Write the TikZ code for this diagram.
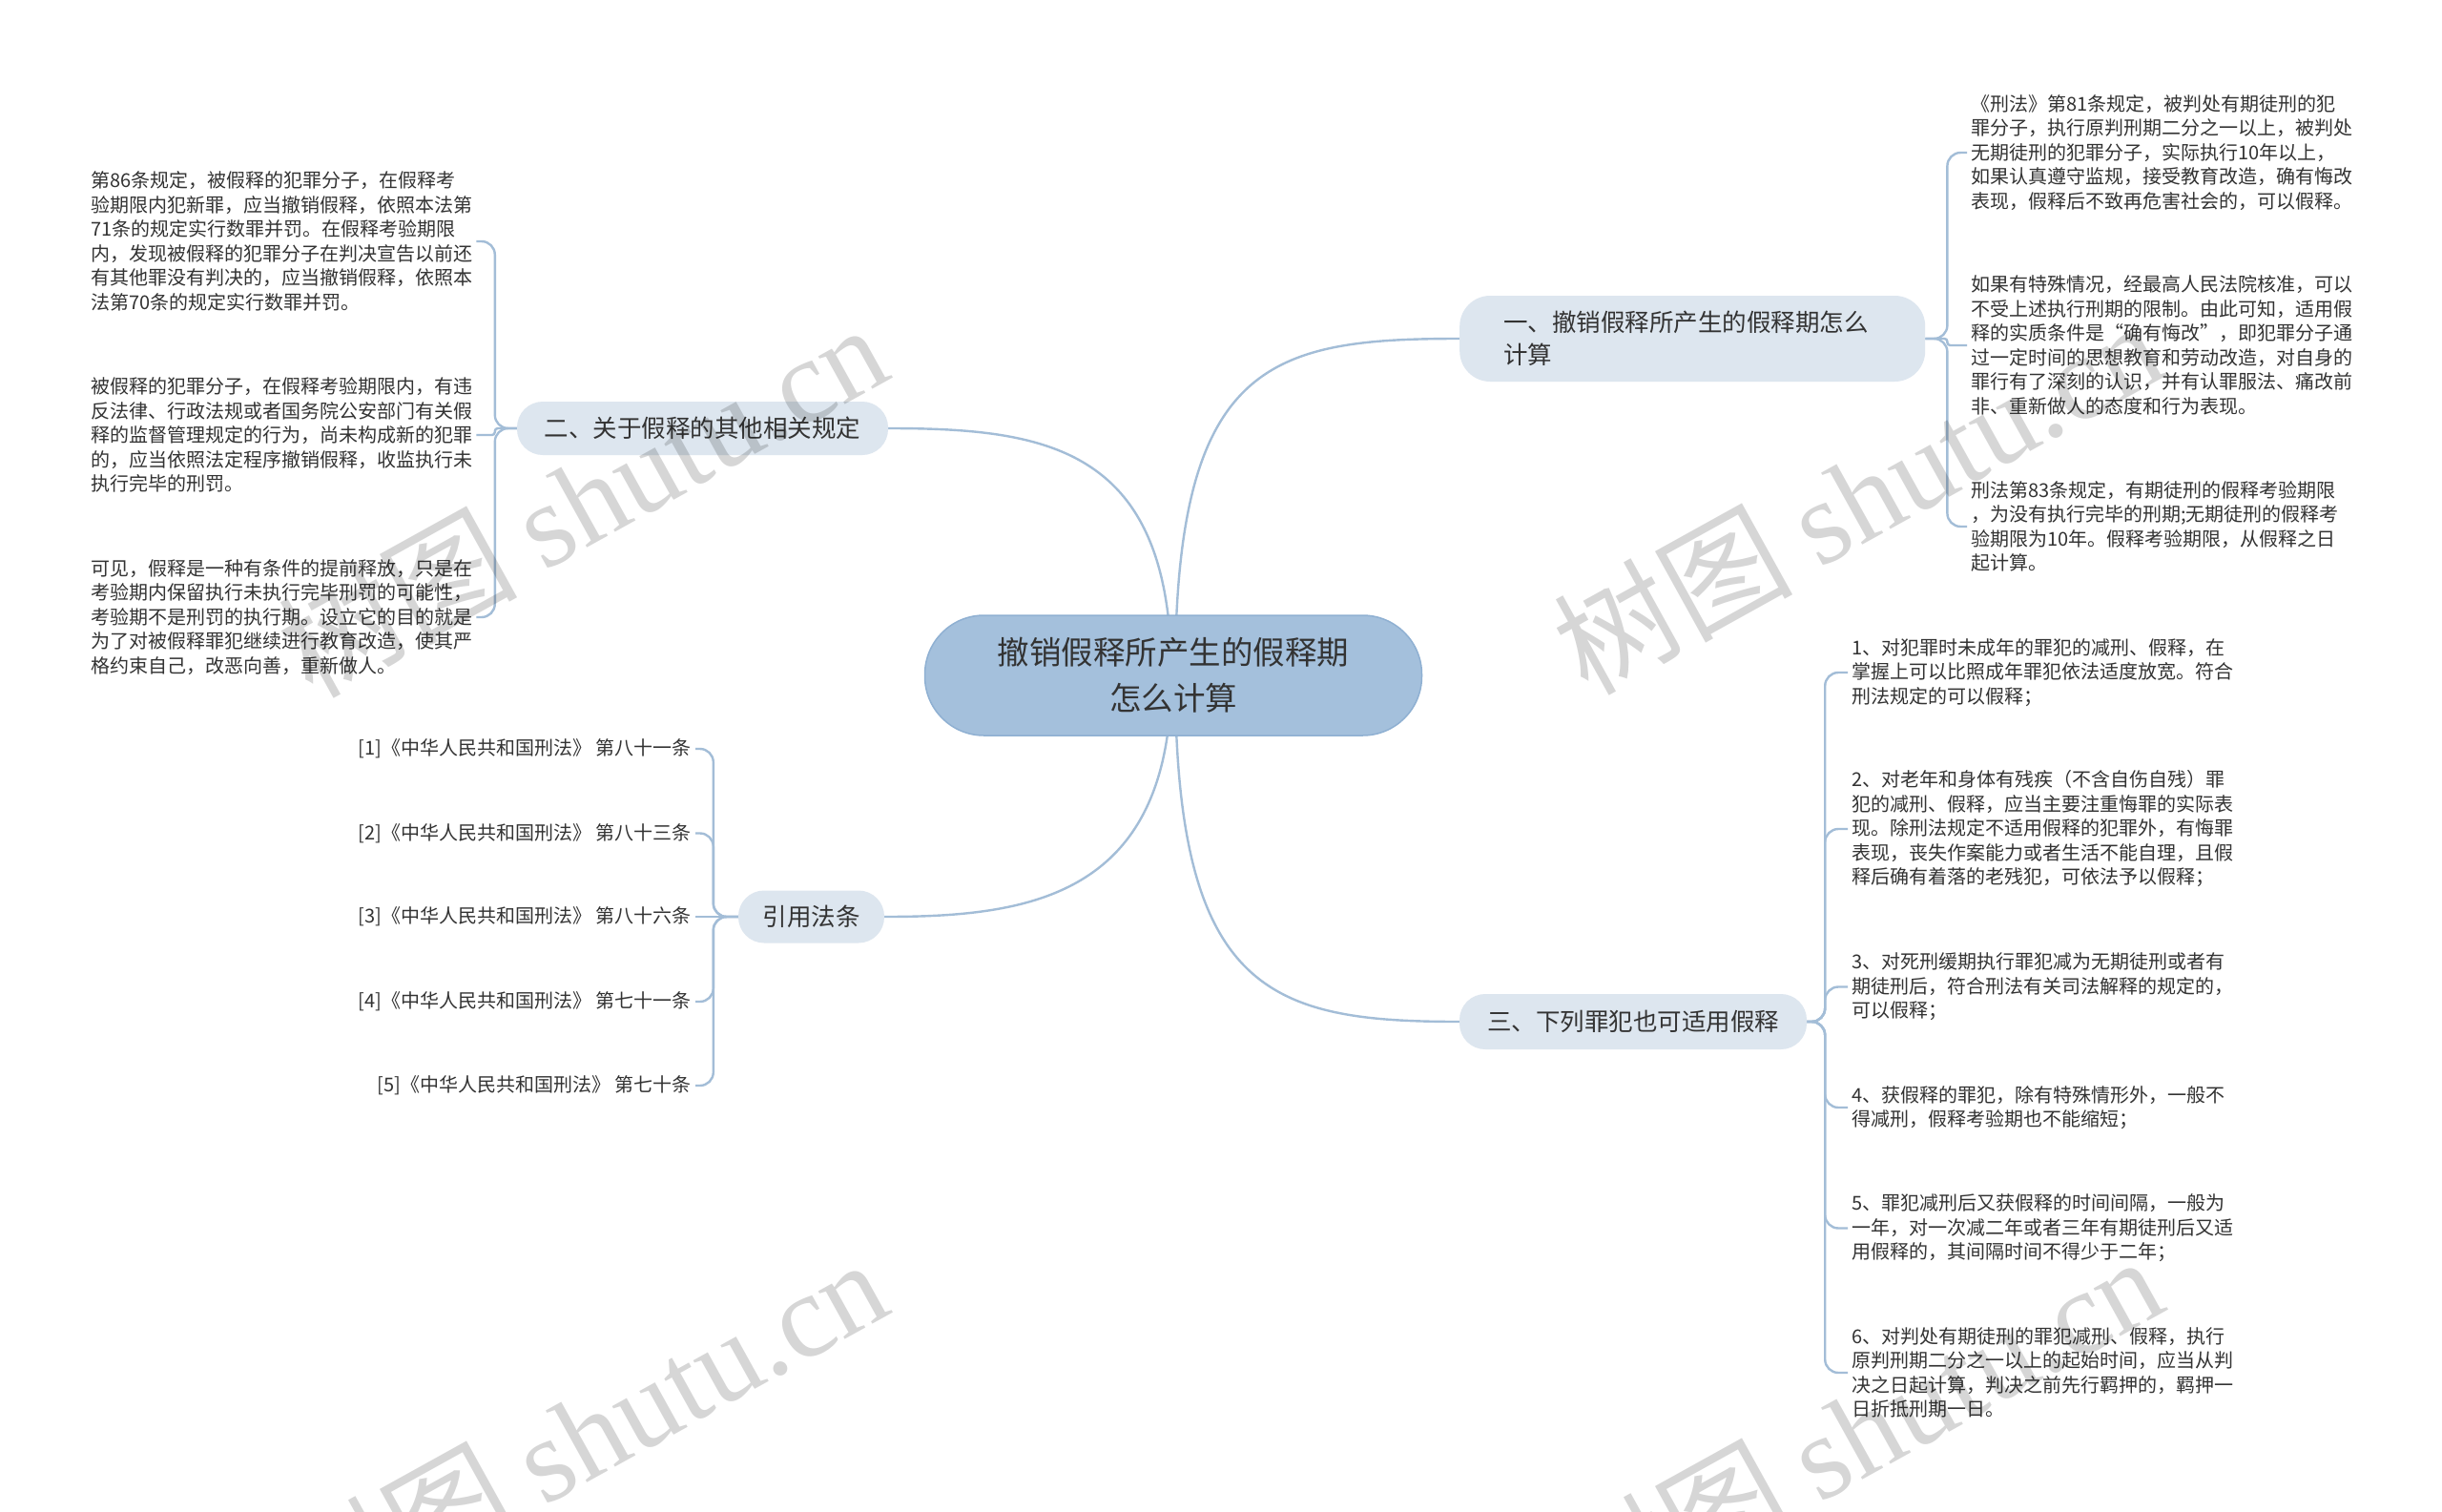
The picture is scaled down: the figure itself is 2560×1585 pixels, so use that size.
\documentclass[tikz,border=0pt]{standalone}
\usepackage{fontspec}
\setmainfont{Noto Sans CJK SC}
\newfontfamily\wmfont{Liberation Serif}
\usetikzlibrary{backgrounds}
\definecolor{linec}{HTML}{A3BDD7}
\definecolor{rootfill}{HTML}{A4C0DC}
\definecolor{rootdraw}{HTML}{8FB0D2}
\definecolor{brfill}{HTML}{DDE6EF}
\definecolor{txt}{HTML}{333333}
\begin{document}
\begin{tikzpicture}[x=1pt,y=-1pt,
  conn/.style={draw=linec, line width=2.4pt},
  rootbox/.style={fill=rootfill, draw=rootdraw, line width=1.5pt, rounded corners=62pt,
    minimum width=521pt, minimum height=126pt, align=center,
    font=\fontsize{33.5}{48}\selectfont, text=txt, inner sep=0pt},
  branch/.style={fill=brfill, rounded corners=27pt, font=\fontsize{25.5}{34}\selectfont,
    text=txt, inner sep=0pt},
  leaf/.style={font=\fontsize{20}{25.5}\selectfont, text=txt, align=left, inner xsep=4pt, inner ysep=0pt},
  leafr/.style={font=\fontsize{20}{25.5}\selectfont, text=txt, align=right, inner xsep=4pt, inner ysep=0pt},
  wm/.style={text=black, opacity=0.16, font=\fontsize{125}{130}\selectfont, rotate=29, inner sep=0pt}
]
\useasboundingbox (0,0) rectangle (2560,1585);

% root and branches
\node[rootbox] (root) at (1230,708) {撤销假释所产生的假释期\\怎么计算};
\node[branch, anchor=west, minimum width=488pt, minimum height=90pt, text width=396pt,
  inner xsep=46pt, align=left, rounded corners=32pt] (b1) at (1530,355) {一、撤销假释所产生的假释期怎么\\计算};
\node[branch, minimum width=389pt, minimum height=56pt] (b2) at (736.5,449) {二、关于假释的其他相关规定};
\node[branch, minimum width=153pt, minimum height=55pt] (b4) at (850.5,961) {引用法条};
\node[branch, minimum width=364pt, minimum height=58pt] (b3) at (1712,1071) {三、下列罪犯也可适用假释};

% leaves of branch 1
\node[leaf, anchor=west] (a1) at (2062,160) {《刑法》第81条规定，被判处有期徒刑的犯\\罪分子，执行原判刑期二分之一以上，被判处\\无期徒刑的犯罪分子，实际执行10年以上，\\如果认真遵守监规，接受教育改造，确有悔改\\表现，假释后不致再危害社会的，可以假释。};
\node[leaf, anchor=west] (a2) at (2062,362) {如果有特殊情况，经最高人民法院核准，可以\\不受上述执行刑期的限制。由此可知，适用假\\释的实质条件是“确有悔改”，即犯罪分子通\\过一定时间的思想教育和劳动改造，对自身的\\罪行有了深刻的认识，并有认罪服法、痛改前\\非、重新做人的态度和行为表现。};
\node[leaf, anchor=west] (a3) at (2062,552) {刑法第83条规定，有期徒刑的假释考验期限\\，为没有执行完毕的刑期;无期徒刑的假释考\\验期限为10年。假释考验期限，从假释之日\\起计算。};

% leaves of branch 2
\node[leaf, anchor=west] (c1) at (91,253) {第86条规定，被假释的犯罪分子，在假释考\\验期限内犯新罪，应当撤销假释，依照本法第\\71条的规定实行数罪并罚。在假释考验期限\\内，发现被假释的犯罪分子在判决宣告以前还\\有其他罪没有判决的，应当撤销假释，依照本\\法第70条的规定实行数罪并罚。};
\node[leaf, anchor=west] (c2) at (91,456) {被假释的犯罪分子，在假释考验期限内，有违\\反法律、行政法规或者国务院公安部门有关假\\释的监督管理规定的行为，尚未构成新的犯罪\\的，应当依照法定程序撤销假释，收监执行未\\执行完毕的刑罚。};
\node[leaf, anchor=west] (c3) at (91,647) {可见，假释是一种有条件的提前释放，只是在\\考验期内保留执行未执行完毕刑罚的可能性，\\考验期不是刑罚的执行期。设立它的目的就是\\为了对被假释罪犯继续进行教育改造，使其严\\格约束自己，改恶向善，重新做人。};

% references
\node[leafr, anchor=east] (r1) at (729,785) {[1]《中华人民共和国刑法》 第八十一条};
\node[leafr, anchor=east] (r2) at (729,873.5) {[2]《中华人民共和国刑法》 第八十三条};
\node[leafr, anchor=east] (r3) at (729,961) {[3]《中华人民共和国刑法》 第八十六条};
\node[leafr, anchor=east] (r4) at (729,1050) {[4]《中华人民共和国刑法》 第七十一条};
\node[leafr, anchor=east] (r5) at (729,1138) {[5]《中华人民共和国刑法》 第七十条};

% leaves of branch 3
\node[leaf, anchor=west] (d1) at (1937,705) {1、对犯罪时未成年的罪犯的减刑、假释，在\\掌握上可以比照成年罪犯依法适度放宽。符合\\刑法规定的可以假释；};
\node[leaf, anchor=west] (d2) at (1937,869) {2、对老年和身体有残疾（不含自伤自残）罪\\犯的减刑、假释，应当主要注重悔罪的实际表\\现。除刑法规定不适用假释的犯罪外，有悔罪\\表现，丧失作案能力或者生活不能自理，且假\\释后确有着落的老残犯，可依法予以假释；};
\node[leaf, anchor=west] (d3) at (1937,1034.5) {3、对死刑缓期执行罪犯减为无期徒刑或者有\\期徒刑后，符合刑法有关司法解释的规定的，\\可以假释；};
\node[leaf, anchor=west] (d4) at (1937,1161) {4、获假释的罪犯，除有特殊情形外，一般不\\得减刑，假释考验期也不能缩短；};
\node[leaf, anchor=west] (d5) at (1937,1287.5) {5、罪犯减刑后又获假释的时间间隔，一般为\\一年，对一次减二年或者三年有期徒刑后又适\\用假释的，其间隔时间不得少于二年；};
\node[leaf, anchor=west] (d6) at (1937,1439) {6、对判处有期徒刑的罪犯减刑、假释，执行\\原判刑期二分之一以上的起始时间，应当从判\\决之日起计算，判决之前先行羁押的，羁押一\\日折抵刑期一日。};

\begin{scope}[on background layer]
  \fill[white] (0,0) rectangle (2560,1585);
  % main connectors
  \draw[conn] ([xshift=2pt]root.center) .. controls (1232,380) and (1330,355) .. (b1.west);
  \draw[conn] ([xshift=-2pt]root.center) .. controls (1228,470) and (1100,449) .. (b2.east);
  \draw[conn] ([xshift=-2pt]root.center) .. controls (1228,940) and (1080,961) .. (b4.east);
  \draw[conn] ([xshift=2pt]root.center) .. controls (1232,1040) and (1330,1071) .. (b3.west);
  % branch 1 brackets
  \draw[conn, rounded corners=14pt] (b1.east) -- ++(23,0) |- (a1.west);
  \draw[conn, rounded corners=3pt] (b1.east) -- ++(23,0) |- (a2.west);
  \draw[conn, rounded corners=14pt] (b1.east) -- ++(23,0) |- (a3.west);
  % branch 2 brackets
  \draw[conn, rounded corners=14pt] (b2.west) -- ++(-23,0) |- (c1.east);
  \draw[conn, rounded corners=3pt] (b2.west) -- ++(-23,0) |- (c2.east);
  \draw[conn, rounded corners=14pt] (b2.west) -- ++(-23,0) |- (c3.east);
  % references brackets
  \draw[conn, rounded corners=14pt] (b4.west) -- ++(-26,0) |- (r1.east);
  \draw[conn, rounded corners=14pt] (b4.west) -- ++(-26,0) |- (r2.east);
  \draw[conn] (b4.west) -- (r3.east);
  \draw[conn, rounded corners=14pt] (b4.west) -- ++(-26,0) |- (r4.east);
  \draw[conn, rounded corners=14pt] (b4.west) -- ++(-26,0) |- (r5.east);
  % branch 3 brackets
  \draw[conn, rounded corners=14pt] (b3.east) -- ++(19,0) |- (d1.west);
  \draw[conn, rounded corners=14pt] (b3.east) -- ++(19,0) |- (d2.west);
  \draw[conn, rounded corners=14pt] (b3.east) -- ++(19,0) |- (d3.west);
  \draw[conn, rounded corners=14pt] (b3.east) -- ++(19,0) |- (d4.west);
  \draw[conn, rounded corners=14pt] (b3.east) -- ++(19,0) |- (d5.west);
  \draw[conn, rounded corners=14pt] (b3.east) -- ++(19,0) |- (d6.west);
\end{scope}

% watermarks
\begin{scope}
  \clip (0,0) rectangle (2560,1585);
  \node[wm] (w1) at (610,523) {树图 {\wmfont shutu.cn}};
  \node[wm] (w2) at (1947,520) {树图 {\wmfont shutu.cn}};
  \node[wm] (w3) at (610,1503) {树图 {\wmfont shutu.cn}};
  \node[wm] (w4) at (1947,1500) {树图 {\wmfont shutu.cn}};
\end{scope}
\end{tikzpicture}
\end{document}
